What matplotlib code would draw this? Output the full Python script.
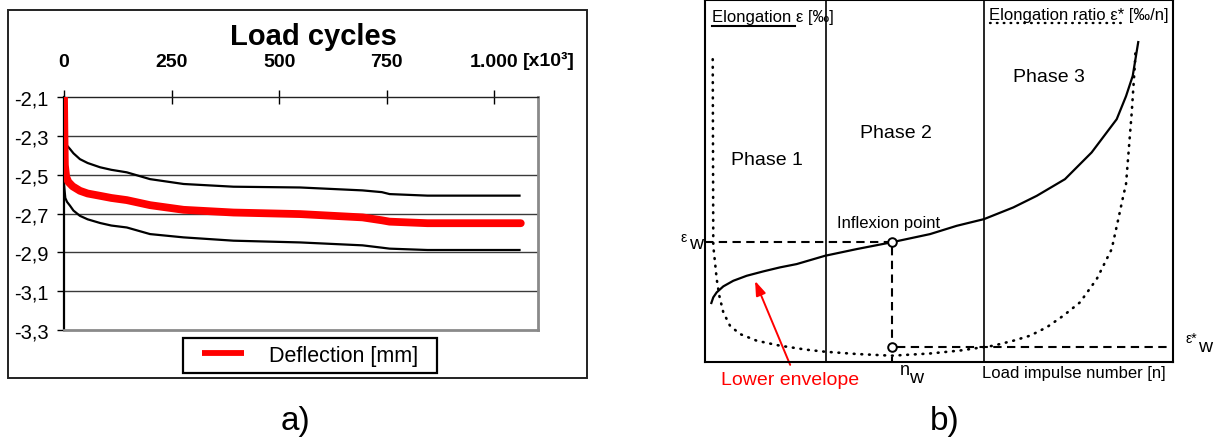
import matplotlib
matplotlib.use('Agg')
import matplotlib.pyplot as plt
import matplotlib.transforms as mtransforms
from matplotlib.patches import Rectangle, FancyArrowPatch

plt.rcParams['font.family'] = ['Liberation Sans', 'DejaVu Sans']

# ---------------- Panel a) data ----------------
upper_x = [0, 3, 7, 14, 22, 37, 55, 84, 110, 146, 200, 278, 394, 549, 694, 739, 757, 845, 1059]
upper_y = [-2.30, -2.33, -2.35, -2.368, -2.39, -2.42, -2.44, -2.462, -2.475, -2.488, -2.523,
           -2.548, -2.562, -2.566, -2.581, -2.59, -2.60, -2.608, -2.608]
mean_x = [0, 1, 2, 5, 10, 20, 37, 55, 84, 110, 146, 200, 278, 394, 549, 694, 739, 757, 845, 1062]
mean_y = [-2.10, -2.30, -2.45, -2.51, -2.537, -2.56, -2.583, -2.597, -2.609, -2.62, -2.631,
          -2.657, -2.681, -2.695, -2.703, -2.72, -2.735, -2.742, -2.75, -2.75]
lower_x = [0, 3, 7, 14, 22, 37, 55, 84, 110, 146, 200, 278, 394, 549, 694, 739, 757, 845, 1059]
lower_y = [-2.55, -2.62, -2.64, -2.66, -2.685, -2.712, -2.73, -2.749, -2.762, -2.772, -2.806,
           -2.823, -2.84, -2.849, -2.864, -2.876, -2.881, -2.888, -2.888]
x_ticks = [0, 250, 500, 750, 1000]
x_ticklabels = ['0', '250', '500', '750', '1.000']
x_unit = '[x10³]'
y_ticks = [-2.1, -2.3, -2.5, -2.7, -2.9, -3.1, -3.3]
y_ticklabels = ['-2,1', '-2,3', '-2,5', '-2,7', '-2,9', '-3,1', '-3,3']

# ---------------- Panel b) data (schematic, normalised units) ----------------
elong_n = [1.28, 1.77, 2.50, 3.91, 6.05, 8.91, 12.46, 16.03, 19.59, 25.64, 32.41, 40.0, 48.08,
           53.78, 59.62, 65.88, 70.88, 76.92, 82.61, 87.97, 89.96, 91.39, 92.61]
elong = [16.01, 17.86, 19.24, 20.89, 22.44, 23.82, 25.03, 26.14, 27.05, 29.34, 31.19, 33.1,
         35.33, 37.62, 39.47, 42.70, 45.90, 50.51, 57.88, 67.07, 73.42, 79.02, 88.68]
ratio_n = [1.65, 1.71, 1.77, 2.14, 2.50, 3.06, 3.91, 5.34, 7.48, 11.05, 16.03, 21.73, 25.64,
           32.41, 39.89, 48.08, 54.49, 61.60, 65.88, 69.44, 73.01, 76.56, 80.13, 83.70, 85.83,
           86.90, 88.31, 89.38, 89.96, 91.18, 91.88, 91.99]
ratio = [83.63, 58.79, 32.02, 27.52, 22.91, 18.30, 13.72, 10.02, 7.73, 5.88, 4.50, 3.39, 2.84,
         2.21, 1.74, 2.35, 3.17, 4.50, 5.88, 7.26, 9.58, 12.78, 16.48, 22.91, 28.43, 31.19,
         39.47, 45.90, 49.13, 68.92, 82.72, 86.39]
phase_bounds = [25.85, 59.6]
n_w = 40.0
eps_w = 33.1
eps_star_w = 4.14

W, H = 1217, 439
fig = plt.figure(figsize=(W / 100, H / 100), dpi=100)


def fx(px):
    return px / W


def fy(py):
    return 1 - py / H


# ---------------- Panel a) ----------------
fig.add_artist(Rectangle((fx(8), fy(379)), (587 - 8) / W, (379 - 11) / H,
                         transform=fig.transFigure, fill=False, edgecolor='#222222', lw=1.4))

ax = fig.add_axes([fx(64), fy(331), (538 - 64) / W, (331 - 98) / H])
ax.set_xlim(0, 1102)
ax.set_ylim(-3.3, -2.1)
for y in y_ticks[1:-1]:
    ax.axhline(y, color='#3a3a3a', lw=1.0, zorder=1)
ax.plot(upper_x, upper_y, color='black', lw=1.6, zorder=3)
ax.plot(lower_x, lower_y, color='black', lw=1.6, zorder=3)
ax.plot(mean_x, mean_y, color='#ff0000', lw=5.6, solid_capstyle='round', zorder=4,
        label='Deflection [mm]')

ax.spines['left'].set_color('black')
ax.spines['left'].set_linewidth(1.6)
ax.spines['top'].set_color('#222222')
ax.spines['top'].set_linewidth(1.0)
ax.spines['right'].set_color('#8a8a8a')
ax.spines['right'].set_linewidth(2.0)
ax.spines['bottom'].set_color('#8a8a8a')
ax.spines['bottom'].set_linewidth(2.0)

ax.xaxis.tick_top()
ax.set_xticks(x_ticks)
ax.set_xticklabels(x_ticklabels, fontsize=14, fontweight='bold')
ax.tick_params(axis='x', direction='inout', length=9.5, width=1.0, pad=15, colors='black')
ax.set_yticks(y_ticks)
ax.set_yticklabels(y_ticklabels, fontsize=14.5)
ax.tick_params(axis='y', direction='out', length=5, width=1.0, pad=6)
unit_tr = ax.get_xaxis_transform() + mtransforms.ScaledTranslation(0, 20.2 / 72, fig.dpi_scale_trans)
ax.text(1066, 1.0, x_unit, transform=unit_tr, fontsize=14, fontweight='bold',
        ha='left', va='bottom')

fig.text(fx(313), fy(37), 'Load cycles', fontsize=21, fontweight='bold', ha='center', va='center')

fig.add_artist(Rectangle((fx(183), fy(374)), (437 - 183) / W, (374 - 339) / H,
                         transform=fig.transFigure, fill=False, edgecolor='black', lw=1.6))
leg = ax.legend(loc='center', bbox_to_anchor=(fx(310), fy(356.5)), bbox_transform=fig.transFigure,
                fontsize=15.5, frameon=False, handlelength=1.95, handletextpad=1.2, borderpad=0.2)
leg.get_lines()[0].set_linewidth(4.2)
leg.get_lines()[0].set_solid_capstyle('butt')

fig.text(fx(295), fy(422), 'a)', fontsize=24, ha='center', va='center')

# ---------------- Panel b) ----------------
ax2 = fig.add_axes([fx(705), fy(363), (1173 - 705) / W, (363 - 1) / H])
ax2.set_xlim(0, 100)
ax2.set_ylim(0, 100)
ax2.set_xticks([])
ax2.set_yticks([])
for s in ax2.spines.values():
    s.set_linewidth(1.5)
    s.set_color('black')

for xb in phase_bounds:
    ax2.axvline(xb, color='black', lw=1.2)

dots = (0, (0.3, 2.6))
ax2.plot(elong_n, elong, color='black', lw=1.6, solid_capstyle='butt', solid_joinstyle='round')
ax2.plot(ratio_n, ratio, color='black', lw=1.9, linestyle=dots, dash_capstyle='round')

dash = (0, (4, 2.6))
ax2.plot([0, n_w - 1.0], [eps_w, eps_w], color='black', lw=1.5, linestyle=dash)
ax2.plot([n_w, n_w], [eps_w - 1.2, 0], color='black', lw=1.5, linestyle=dash)
ax2.plot([n_w + 1.0, 100], [eps_star_w, eps_star_w], color='black', lw=1.5, linestyle=dash)
ax2.plot([n_w, n_w], [eps_w, eps_star_w], linestyle='none', marker='o', markersize=6.2,
         markerfacecolor='white', markeredgecolor='black', markeredgewidth=1.4, zorder=5)

ax2.text(1.5, 95.5, 'Elongation ε [‰]', fontsize=12, ha='left', va='center')
ax2.plot([1.5, 19.2], [92.7, 92.7], color='black', lw=1.5)
ax2.text(60.7, 96.1, 'Elongation ratio ε* [‰/n]', fontsize=12, ha='left', va='center')
ax2.plot([60.9, 89.3], [93.6, 93.6], color='black', lw=1.7, linestyle=dots, dash_capstyle='round')

ax2.text(13.2, 56.0, 'Phase 1', fontsize=14, ha='center', va='center')
ax2.text(40.8, 63.5, 'Phase 2', fontsize=14, ha='center', va='center')
ax2.text(73.5, 78.9, 'Phase 3', fontsize=14, ha='center', va='center')
ax2.text(28.2, 38.6, 'Inflexion point', fontsize=12, ha='left', va='center')

ax2.text(-5.3, 34.5, 'ε', fontsize=10, ha='left', va='center', clip_on=False)
ax2.text(-3.5, 32.6, 'w', fontsize=14, ha='left', va='center', clip_on=False)
ax2.text(102.6, 6.5, 'ε*', fontsize=10, ha='left', va='center', clip_on=False)
ax2.text(105.3, 4.2, 'w', fontsize=14, ha='left', va='center', clip_on=False)
ax2.text(42.7, -2.0, 'n', fontsize=13, ha='center', va='center', clip_on=False)
ax2.text(45.0, -4.2, 'w', fontsize=14, ha='center', va='center', clip_on=False)
ax2.text(59.2, -2.8, 'Load impulse number [n]', fontsize=12, ha='left', va='center', clip_on=False)
ax2.text(18.2, -4.7, 'Lower envelope', fontsize=14, color='#ff0000', ha='center', va='center',
         clip_on=False)

arrow = FancyArrowPatch((18.2, -0.8), (10.7, 22.4), arrowstyle='-|>,head_length=2.7,head_width=0.95',
                        color='#ff0000', lw=1.4, shrinkA=0, shrinkB=0, clip_on=False,
                        mutation_scale=3.2)
ax2.add_patch(arrow)

fig.text(fx(945), fy(422), 'b)', fontsize=24, ha='center', va='center')

fig.savefig('out.png', dpi=100)
